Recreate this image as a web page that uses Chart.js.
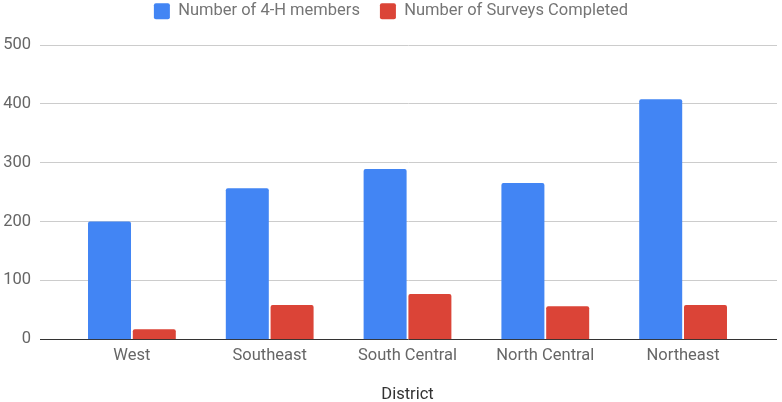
<!DOCTYPE html>
<html>
<head>
<meta charset="utf-8">
<script src="https://cdn.jsdelivr.net/npm/chart.js@4/dist/chart.umd.min.js"></script>
<style>
  html,body{margin:0;padding:0;background:#fff;}
  #wrap{width:782px;height:402px;position:relative;}
</style>
</head>
<body>
<div id="wrap"><canvas id="c"></canvas></div>
<script>
// District bar chart: 4-H members vs surveys completed
const districts = ['West','Southeast','South Central','North Central','Northeast'];
const members = [200, 256, 289, 265, 407];
const surveys = [17, 58, 77, 56, 58];
const yTicks = [0, 100, 200, 300, 400, 500];

// gridlines in the reference run wider than the bar area, so draw them by hand
const wideGrid = {
  id:'wideGrid',
  beforeInit(chart){
    // make the legend block taller so the plot starts lower
    const lg = chart.legend;
    if(lg){
      const fit = lg.fit;
      lg.fit = function(){ fit.call(this); this.height = 61.5; };
    }
  },
  beforeDatasetsDraw(chart){
    const ctx = chart.ctx, y = chart.scales.y;
    const x0 = 40, x1 = 777;
    ctx.save();
    yTicks.forEach(v=>{
      const py = Math.round(y.getPixelForValue(v)) + 0.5;
      ctx.strokeStyle = v===0 ? '#333' : '#ccc';
      ctx.lineWidth = 1;
      ctx.beginPath(); ctx.moveTo(x0, py); ctx.lineTo(x1, py); ctx.stroke();
    });
    ctx.restore();
  }
};

Chart.defaults.font.family = 'Roboto';
const fs = 16.5;
new Chart(document.getElementById('c'), {
  type:'bar',
  data:{
    labels: districts,
    datasets:[
      {label:'Number of 4-H members', data:members, backgroundColor:'#4285F4',
       borderRadius:{topLeft:2,topRight:2}, borderSkipped:'bottom', categoryPercentage:0.65, barPercentage:0.96},
      {label:'Number of Surveys Completed', data:surveys, backgroundColor:'#DB4437',
       borderRadius:{topLeft:2,topRight:2}, borderSkipped:'bottom', categoryPercentage:0.65, barPercentage:0.96}
    ]
  },
  options:{
    responsive:true,
    maintainAspectRatio:false,
    animation:false,
    layout:{padding:{left:0,right:0,top:-17,bottom:0}},
    plugins:{
      legend:{
        position:'top',
        labels:{boxWidth:16, boxHeight:16, useBorderRadius:true, borderRadius:2,
                color:'#757575', font:{size:fs}, padding:20}
      },
      tooltip:{enabled:false}
    },
    scales:{
      x:{
        afterFit(s){ s.height = 62.7; },
        grid:{display:false, drawTicks:false},
        border:{display:false},
        ticks:{color:'#666', font:{size:fs}, padding:7},
        title:{display:true, text:'District', color:'#333', font:{size:fs}, padding:{top:0,bottom:-3}}
      },
      y:{
        min:0, max:500,
        afterFit(s){ s.width = 63; },
        grid:{display:false, drawTicks:false},
        border:{display:false},
        ticks:{stepSize:100, color:'#666', font:{size:fs}, padding:32}
      },
      // empty right-hand axis only reserves the right margin
      yr:{
        position:'right',
        afterFit(s){ s.width = 30; },
        grid:{display:false, drawTicks:false},
        border:{display:false},
        ticks:{display:false}
      }
    }
  },
  plugins:[wideGrid]
});
</script>
</body>
</html>
